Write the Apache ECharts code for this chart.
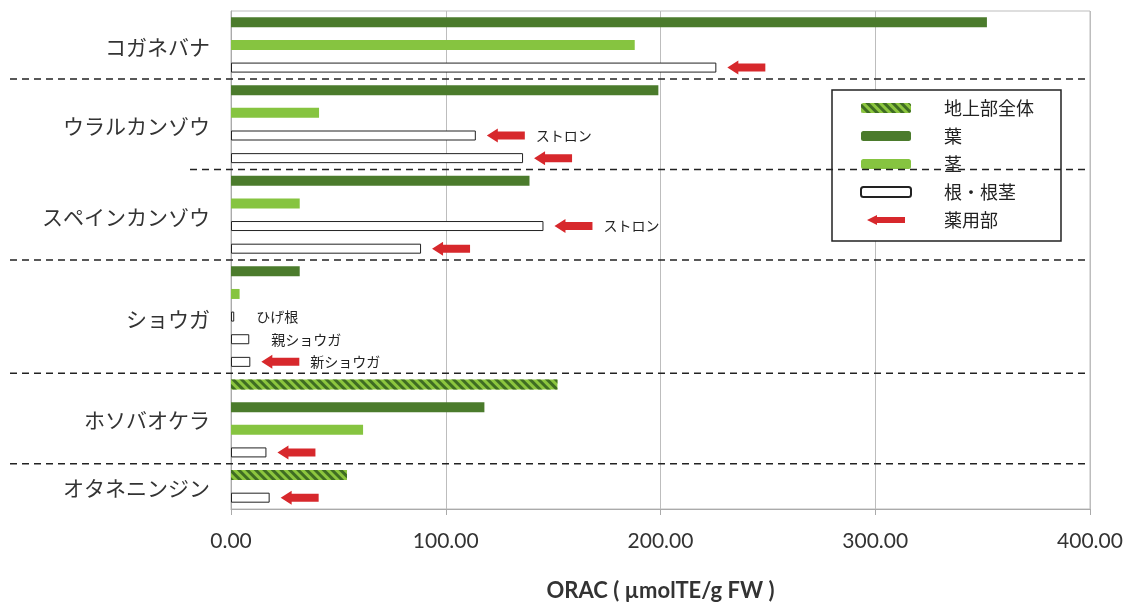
<!DOCTYPE html>
<html><head><meta charset="utf-8">
<script src="https://cdn.jsdelivr.net/npm/echarts@6/dist/echarts.min.js"></script>
<style>html,body{margin:0;padding:0;background:#fff}#c{width:1128px;height:609px}</style>
</head><body><div id="c"></div>
<script>
// ---- data ----
const groups = ['コガネバナ','ウラルカンゾウ','スペインカンゾウ','ショウガ','ホソバオケラ','オタネニンジン'];
const groupSizes = [3,4,4,5,4,2];
const partNames = ['地上部全体','葉','茎','根・根茎'];
const rowParts = ['葉','茎','根・根茎', '葉','茎','根・根茎','根・根茎', '葉','茎','根・根茎','根・根茎',
  '葉','茎','根・根茎','根・根茎','根・根茎', '地上部全体','葉','茎','根・根茎', '地上部全体','根・根茎'];
const rowValues = [352,188,226, 199,41,114,136, 139,32,145.5,88.5, 32,4,1.5,8.5,9, 152,118,61.5,16.5, 54,18];
const rowMedicinal = [0,0,1, 0,0,1,1, 0,0,1,1, 0,0,0,0,1, 0,0,0,1, 0,1];
const rowNotes = ['','','', '','','ストロン','', '','','ストロン','', '','','ひげ根','親ショウガ','新ショウガ', '','','','', '',''];
const xTicks = [0,100,200,300,400];
const xTitle = 'ORAC ( µmolTE/g FW )';
const medicinalName = '薬用部';

// ---- build ----
const rowIdx = rowValues.map((_, i) => String(i));
const colors = {'地上部全体':'#8cc63e','葉':'#4b7b2c','茎':'#86c440','根・根茎':'#ffffff'};
const barSeries = partNames.map(name => {
  const s = {
    name, type:'bar', stack:'all', barWidth:10,
    data: rowValues.map((v,i) => rowParts[i]===name ? v : '-'),
    itemStyle:{color:colors[name]}
  };
  if (name==='根・根茎') s.itemStyle = {color:'#fff', borderColor:'#222', borderWidth:1};
  if (name==='地上部全体') s.itemStyle = {color:'#8cc63e', decal:{symbol:'rect', symbolSize:1, dashArrayX:[1,0], dashArrayY:[3,3], rotation:Math.PI/4, color:'#3f6d22'}};
  return s;
});
const arrowData = [];
rowValues.forEach((v,i) => { if (rowMedicinal[i]) arrowData.push([v, i]); });
const noteData = [], noteText = [], noteArrow = [];
rowValues.forEach((v,i) => { if (rowNotes[i]) { noteData.push([v,i]); noteText.push(rowNotes[i]); noteArrow.push(rowMedicinal[i]); } });
const groupData = [];
let start = 0;
groups.forEach((g,k) => { groupData.push([0, start, start+groupSizes[k]-1]); start += groupSizes[k]; });

const RED = '#d7282c';
function arrowPts(x0, y) {
  return [[x0,y],[x0+11,y-7],[x0+11,y-4],[x0+38,y-4],[x0+38,y+4],[x0+11,y+4],[x0+11,y+7]];
}

const option = {
  animation:false,
  textStyle:{fontFamily:'"Noto Sans CJK JP", Lato, sans-serif'},
  grid:{left:231, right:38, top:11, bottom:100, show:true, borderColor:'#bdbdbd', borderWidth:1},
  legend:{
    orient:'vertical', left:832, top:90,
    data:[
      {name:'地上部全体'},{name:'葉'},{name:'茎'},{name:'根・根茎'},
      {name:medicinalName, icon:'path://M0,5 L10,0 L10,2 L38,2 L38,8 L10,8 L10,10 Z'}
    ],
    itemWidth:50, itemHeight:10, itemGap:10,
    backgroundColor:'#fff', borderColor:'#222', borderWidth:1.5,
    padding:[9,27,12,28],
    textStyle:{fontSize:18, color:'#222', lineHeight:18, padding:[0,0,0,28], fontFamily:'"Noto Sans CJK JP", sans-serif'},
    selectedMode:false
  },
  xAxis:{
    type:'value', min:0, max:400, interval:100,
    axisLabel:{formatter:v=>v.toFixed(2), fontSize:21, color:'#333', margin:22, fontFamily:'Lato, sans-serif'},
    axisLine:{show:true, lineStyle:{color:'#aaa'}},
    axisTick:{show:true, length:6, lineStyle:{color:'#aaa'}},
    splitLine:{lineStyle:{color:'#bdbdbd'}},
    name:xTitle, nameLocation:'middle', nameGap:71,
    nameTextStyle:{fontSize:22, fontWeight:'bold', color:'#333', fontFamily:'Lato, sans-serif'}
  },
  yAxis:{
    type:'category', data:rowIdx, inverse:true,
    axisLabel:{show:false}, axisTick:{show:false},
    axisLine:{show:true, lineStyle:{color:'#aaa'}}
  },
  series:[
    ...barSeries,
    {
      name:medicinalName, type:'custom', clip:false, z:5,
      itemStyle:{color:RED},
      data:arrowData,
      renderItem:(params, api) => {
        const p = api.coord([api.value(0), api.value(1)]);
        return {type:'polygon', shape:{points:arrowPts(p[0]+11, p[1])}, style:{fill:RED}};
      }
    },
    {
      type:'custom', clip:false, z:5, silent:true,
      data:noteData,
      renderItem:(params, api) => {
        const p = api.coord([api.value(0), api.value(1)]);
        const i = params.dataIndex;
        const x = noteArrow[i] ? p[0] + 11 + 38 + 11 : p[0] + 22;
        return {type:'text', style:{x, y:p[1], text:noteText[i], textAlign:'left', textVerticalAlign:'middle',
          fontSize:14, fill:'#222', fontFamily:'"Noto Sans CJK JP", sans-serif'}};
      }
    },
    {
      type:'custom', clip:false, z:6, silent:true,
      data:groupData,
      renderItem:(params, api) => {
        const a = api.coord([0, api.value(1)]);
        const b = api.coord([0, api.value(2)]);
        const right = api.coord([400, 0])[0];
        const rowH = api.size([0, 1])[1];
        const k = params.dataIndex;
        const children = [{
          type:'text', style:{x:a[0]-21, y:(a[1]+b[1])/2 + 2, text:groups[k], textAlign:'right', textVerticalAlign:'middle',
            fontSize:21, fill:'#333', fontFamily:'"Noto Sans CJK JP", sans-serif'}
        }];
        if (k < groups.length - 1) {
          const y = b[1] + rowH/2;
          children.push({type:'line', shape:{x1: k===1 ? 190 : 10, y1:y, x2:right, y2:y},
            style:{stroke:'#222', lineWidth:1.5, lineDash:[7,5]}});
        }
        return {type:'group', children};
      }
    }
  ]
};
const chart = echarts.init(document.getElementById('c'), null, {renderer:'canvas'});
chart.setOption(option);
</script>
</body></html>
